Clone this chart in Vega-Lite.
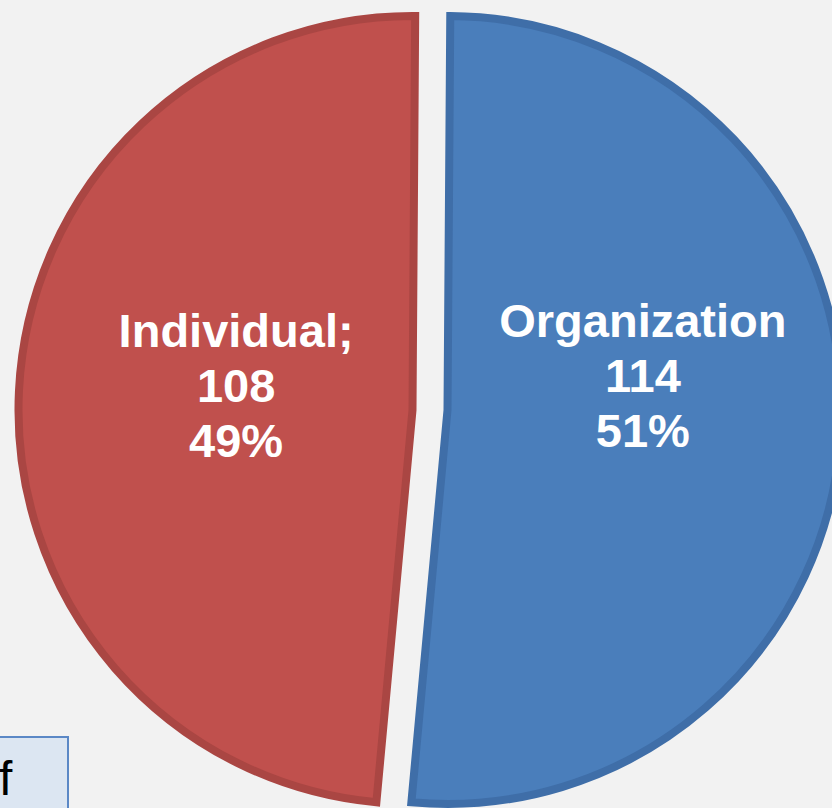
{
  "$schema": "https://vega.github.io/schema/vega-lite/v6.json",
  "width": 860,
  "height": 820,
  "autosize": "none",
  "padding": 0,
  "background": "#f2f2f2",
  "config": {"view": {"stroke": null}},
  "data": {
    "values": [
      {"type": "Organization", "count": 114, "label": ["Organization", "114", "51%"]},
      {"type": "Individual", "count": 108, "label": ["Individual;", "108", "49%"]}
    ]
  },
  "encoding": {
    "theta": {"field": "count", "type": "quantitative", "stack": true, "scale": {"range": [0.007, 6.290]}},
    "order": {"field": "count", "sort": "descending"},
    "x": {"field": "type", "type": "nominal", "axis": null, "scale": {"type": "point", "padding": 0, "range": [412.5, 447.5], "domain": ["Individual", "Organization"]}}
  },
  "layer": [
    {
      "mark": {"type": "arc", "radius": 394, "strokeWidth": 8, "strokeJoin": "miter"},
      "encoding": {
        "color": {
          "field": "type", "type": "nominal",
          "scale": {"domain": ["Individual", "Organization"], "range": ["#c0504d", "#4a7ebb"]},
          "legend": {
            "title": null,
            "orient": "none",
            "legendX": -73,
            "legendY": 737,
            "direction": "horizontal",
            "values": ["Individual"],
            "labelExpr": "'f\u2800'",
            "symbolOpacity": 0,
            "symbolStrokeWidth": 0,
            "symbolSize": 100,
            "labelOffset": 4,
            "padding": 20,
            "labelFont": "Liberation Sans, DejaVu Sans Mono",
            "labelFontSize": 48,
            "labelColor": "#000000",
            "fillColor": "#dce6f2",
            "strokeColor": "#5b88c6",
            "encode": {"legend": {"update": {"strokeWidth": {"value": 2}}}}
          }
        },
        "stroke": {
          "field": "type", "type": "nominal",
          "scale": {"domain": ["Individual", "Organization"], "range": ["#aa4643", "#3f6ea8"]},
          "legend": null
        }
      }
    },
    {
      "mark": {"type": "text", "radius": 176.6, "dy": -68, "font": "Liberation Sans", "fontSize": 47, "fontWeight": "bold", "fill": "#ffffff", "lineHeight": 55, "align": "center", "baseline": "middle"},
      "encoding": {
        "text": {"condition": {"test": "datum.type === 'Individual'", "field": "label"}, "value": ""}
      }
    },
    {
      "mark": {"type": "text", "radius": 195.6, "dy": -97, "font": "Liberation Sans", "fontSize": 47, "fontWeight": "bold", "fill": "#ffffff", "lineHeight": 55, "align": "center", "baseline": "middle"},
      "encoding": {
        "text": {"condition": {"test": "datum.type === 'Organization'", "field": "label"}, "value": ""}
      }
    }
  ]
}
